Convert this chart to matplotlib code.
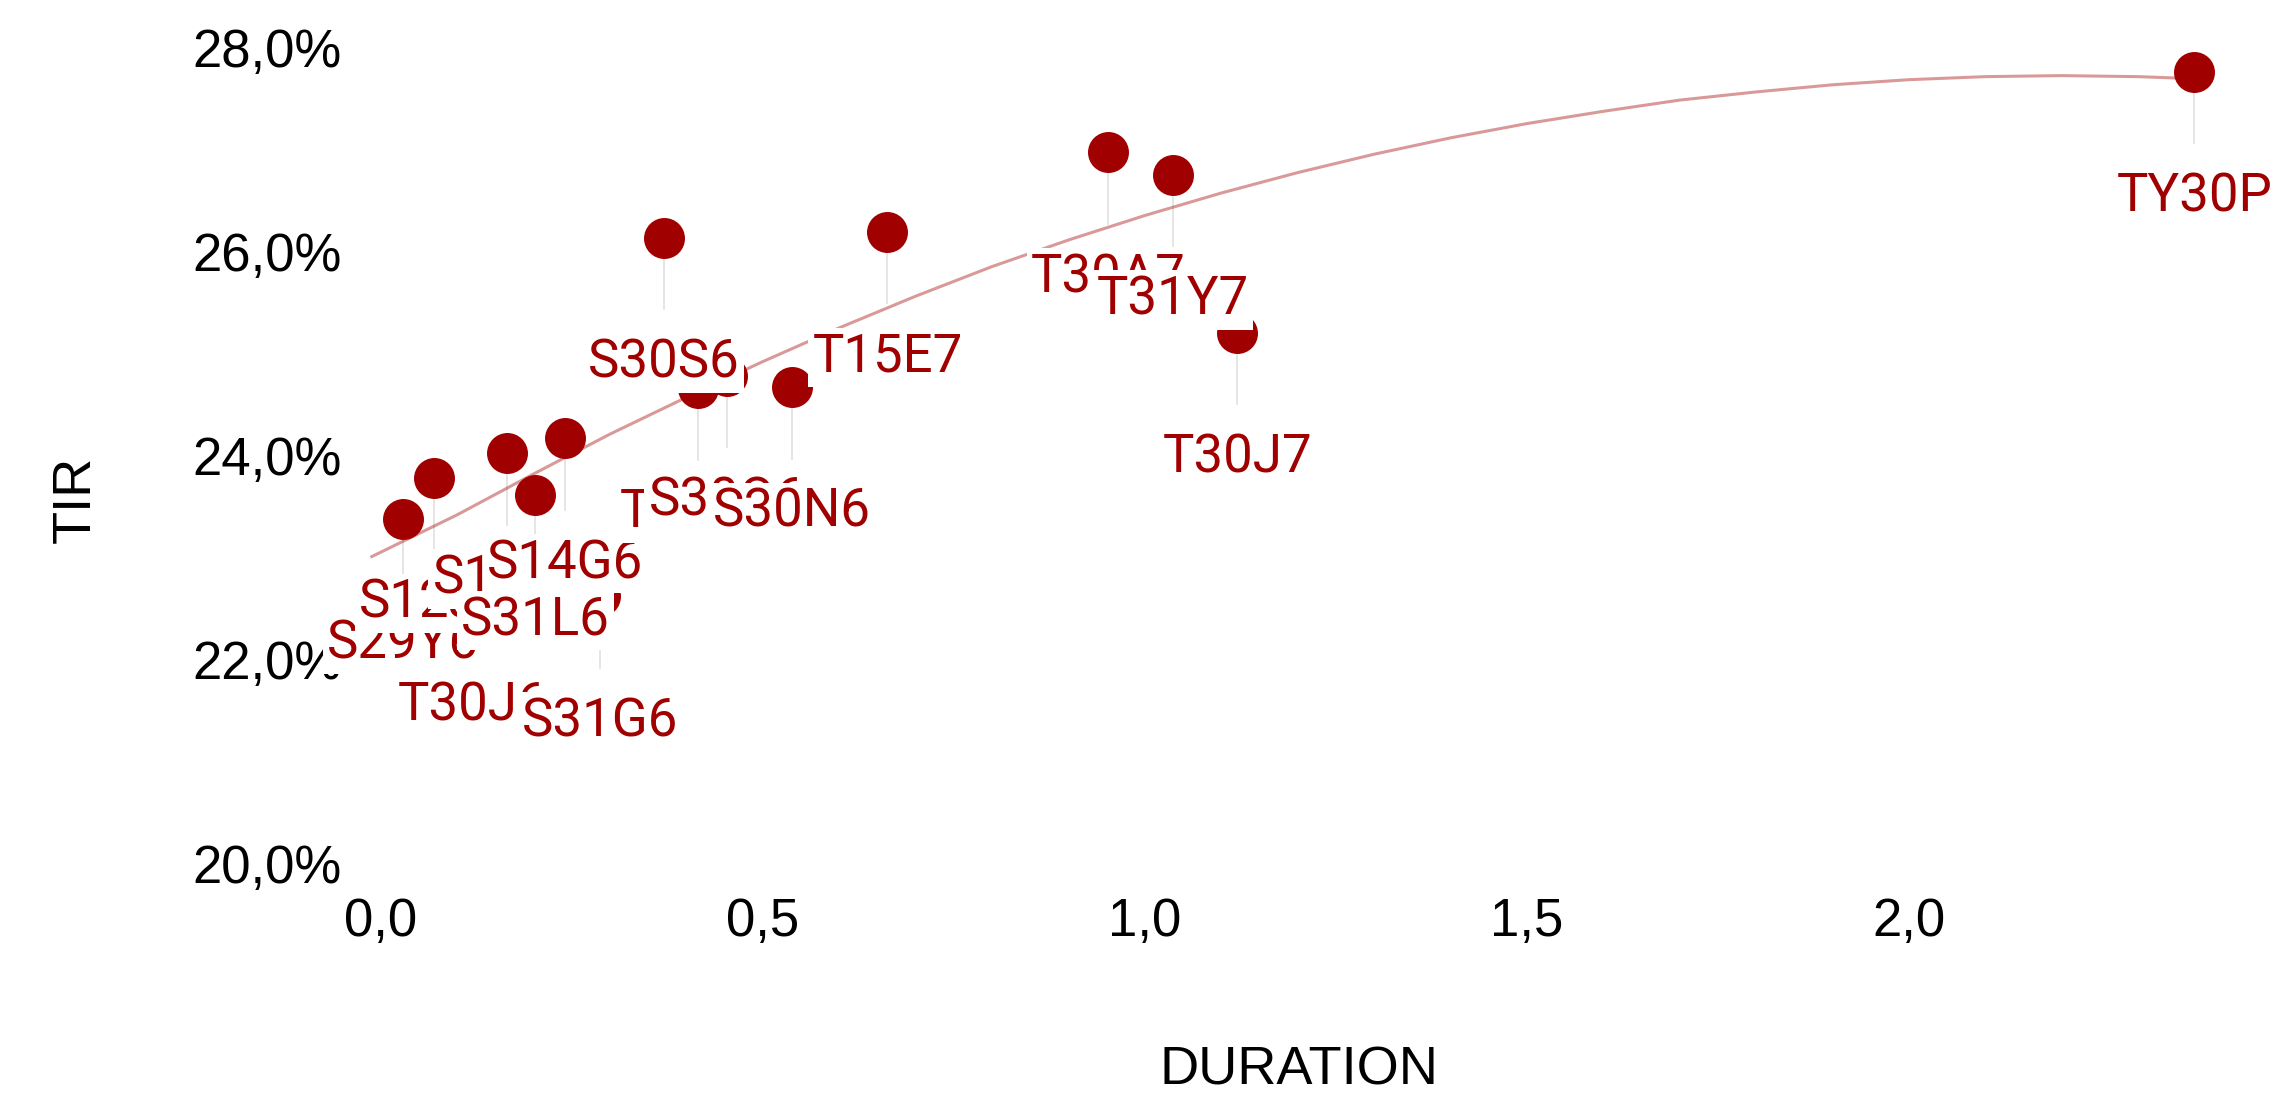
import matplotlib
matplotlib.use('Agg')
import matplotlib.pyplot as plt
from matplotlib.ticker import FuncFormatter

# --- DATOS ---
tickers = ["S29Y6", "S12J6", "T30J6", "S17L6", "S31L6", "S14G6", "S31G6", "S30S6",
           "T16O6", "S30O6", "S30N6", "T15E7", "T30A7", "T31Y7", "T30J7", "TY30P"]
duration = [0.029, 0.069, 0.120, 0.165, 0.202, 0.241, 0.287, 0.370,
            0.415, 0.453, 0.538, 0.663, 0.952, 1.037, 1.121, 2.374]
tir = [23.38, 23.78, 22.77, 24.02, 23.61, 24.17, 22.62, 26.13,
       24.66, 24.78, 24.67, 26.19, 26.97, 26.75, 25.20, 27.76]

# curva de tendencia
trend_x = [-0.012, 0.1, 0.2, 0.3, 0.4, 0.5, 0.6, 0.7, 0.8, 0.9, 1.0, 1.1, 1.2,
           1.3, 1.4, 1.5, 1.6, 1.7, 1.8, 1.9, 2.0, 2.1, 2.2, 2.3, 2.374]
trend_y = [23.01, 23.42, 23.82, 24.21, 24.57, 24.92, 25.25, 25.56, 25.85, 26.11,
           26.35, 26.57, 26.77, 26.95, 27.11, 27.25, 27.37, 27.48, 27.56, 27.63,
           27.68, 27.71, 27.72, 27.71, 27.69]

x_ticks = [0, 0.5, 1.0, 1.5, 2.0]
y_ticks = [20, 22, 24, 26, 28]

RED = '#a00000'
STEM = 0.70       # largo del palito (en puntos de TIR)
LABEL_OFF = 1.37  # baseline de la etiqueta bajo el punto

# --- GRAFICO ---
fig = plt.figure(figsize=(22.88, 11), dpi=100)
ax = fig.add_axes([0.15315, 0.18673, 0.83462, 0.78909])

ax.plot(trend_x, trend_y, color=RED, alpha=0.4, linewidth=2.2, zorder=2.5,
        solid_joinstyle='round')

for x, y in zip(duration, tir):
    ax.plot([x, x], [y, y - STEM], color='#e3e3e3', linewidth=1.3, zorder=2)

ax.plot(duration, tir, 'o', color=RED, markersize=29.5, markeredgewidth=0, zorder=3)

# etiquetas con fondo blanco, se tapan en orden de duration
order = sorted(range(len(tickers)), key=lambda i: duration[i])
for k, i in enumerate(order):
    ax.text(duration[i], tir[i] - LABEL_OFF, tickers[i], color=RED, fontsize=38,
            family='Roboto', ha='center', va='baseline', zorder=10 + k,
            bbox=dict(boxstyle='square,pad=0.08', fc='white', ec='none'))

ax.set_xlim(-0.04, 2.46)
ax.set_ylim(19.70, 28.2)
ax.set_xticks(x_ticks)
ax.set_yticks(y_ticks)
ax.xaxis.set_major_formatter(FuncFormatter(lambda v, p: f"{v:.1f}".replace('.', ',')))
ax.yaxis.set_major_formatter(FuncFormatter(lambda v, p: f"{v:.1f}%".replace('.', ',')))
ax.tick_params(length=0, labelsize=38, colors='black')
ax.tick_params(axis='y', pad=6)
ax.tick_params(axis='x', pad=2)
for lab in ax.get_xticklabels() + ax.get_yticklabels():
    lab.set_family('Liberation Sans')
for s in ax.spines.values():
    s.set_visible(False)

fig.text(0.5677, 0.027, "DURATION", fontsize=39, family='Liberation Sans',
         ha='center', va='center')
fig.text(0.0332, 0.546, "TIR", fontsize=39, family='Liberation Sans',
         ha='center', va='center', rotation=90)

fig.savefig('out.png', dpi=100, facecolor='white')
